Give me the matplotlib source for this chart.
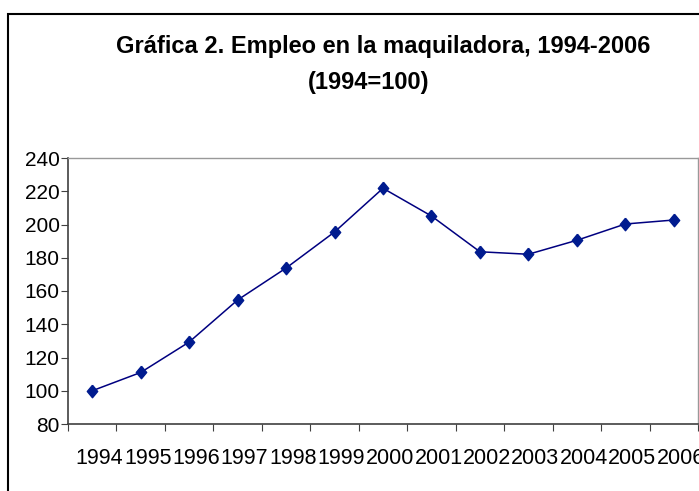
import matplotlib
matplotlib.use("Agg")
import matplotlib.pyplot as plt
from matplotlib.patches import Rectangle
from matplotlib.transforms import ScaledTranslation

years = ["1994", "1995", "1996", "1997", "1998", "1999", "2000",
         "2001", "2002", "2003", "2004", "2005", "2006"]
empleo = [100, 111, 129.3, 154.6, 173.8, 195.5, 221.8,
          205.1, 183.6, 182.1, 190.5, 200.3, 202.7]
y_ticks = [80, 100, 120, 140, 160, 180, 200, 220, 240]

plt.rcParams["font.family"] = ["Liberation Sans", "DejaVu Sans"]

W, H = 699, 491
fig = plt.figure(figsize=(W / 100, H / 100), dpi=100)

# chart frame (runs off the right and bottom edges)
fig.patches.append(Rectangle((8 / W, -0.1), 1.2, (H - 14) / H + 0.1,
                             transform=fig.transFigure, fill=False,
                             edgecolor="black", linewidth=1.5, clip_on=False))

ax = fig.add_axes([68 / W, 67 / H, 630 / W, 266 / H])

x = list(range(len(years)))
diamond = [(0, 1), (0.83, 0), (0, -1), (-0.83, 0), (0, 1)]
ax.plot(x, empleo, color="#000080", linewidth=1.1,
        marker=diamond, markersize=9, markerfacecolor="#001b8f",
        markeredgecolor="#001b8f", clip_on=False, zorder=3)

ax.set_xlim(-0.5, len(years) - 0.5)
ax.set_ylim(80, 240)
ax.set_yticks(y_ticks)
ax.set_yticklabels([str(v) for v in y_ticks])

ax.set_xticks([i - 0.5 for i in range(len(years) + 1)])
ax.set_xticklabels([])
ax.set_xticks(x, minor=True)
ax.set_xticklabels(years, minor=True)
ax.tick_params(axis="x", which="minor", length=0, pad=17, labelsize=15.5)
ax.tick_params(axis="x", which="major", length=5, color="#404040", direction="out")
ax.tick_params(axis="y", length=5, color="#404040", direction="out", labelsize=15, pad=1)

# labels sit a little right of the category centres in the original
shift = ScaledTranslation(7 / 100, 0, fig.dpi_scale_trans)
for lab in ax.get_xticklabels(minor=True):
    lab.set_transform(lab.get_transform() + shift)

for side in ["left", "bottom"]:
    ax.spines[side].set_color("#404040")
    ax.spines[side].set_linewidth(1.2)
for side in ["top", "right"]:
    ax.spines[side].set_color("#999999")
    ax.spines[side].set_linewidth(1.0)

fig.text(383 / W, 1 - 47 / H, "Gráfica 2. Empleo en la maquiladora, 1994-2006",
         ha="center", va="center", fontsize=17, fontweight="bold")
fig.text(369 / W, 1 - 83 / H, "(1994=100)",
         ha="center", va="center", fontsize=17, fontweight="bold")

fig.savefig("out.png", dpi=100)
